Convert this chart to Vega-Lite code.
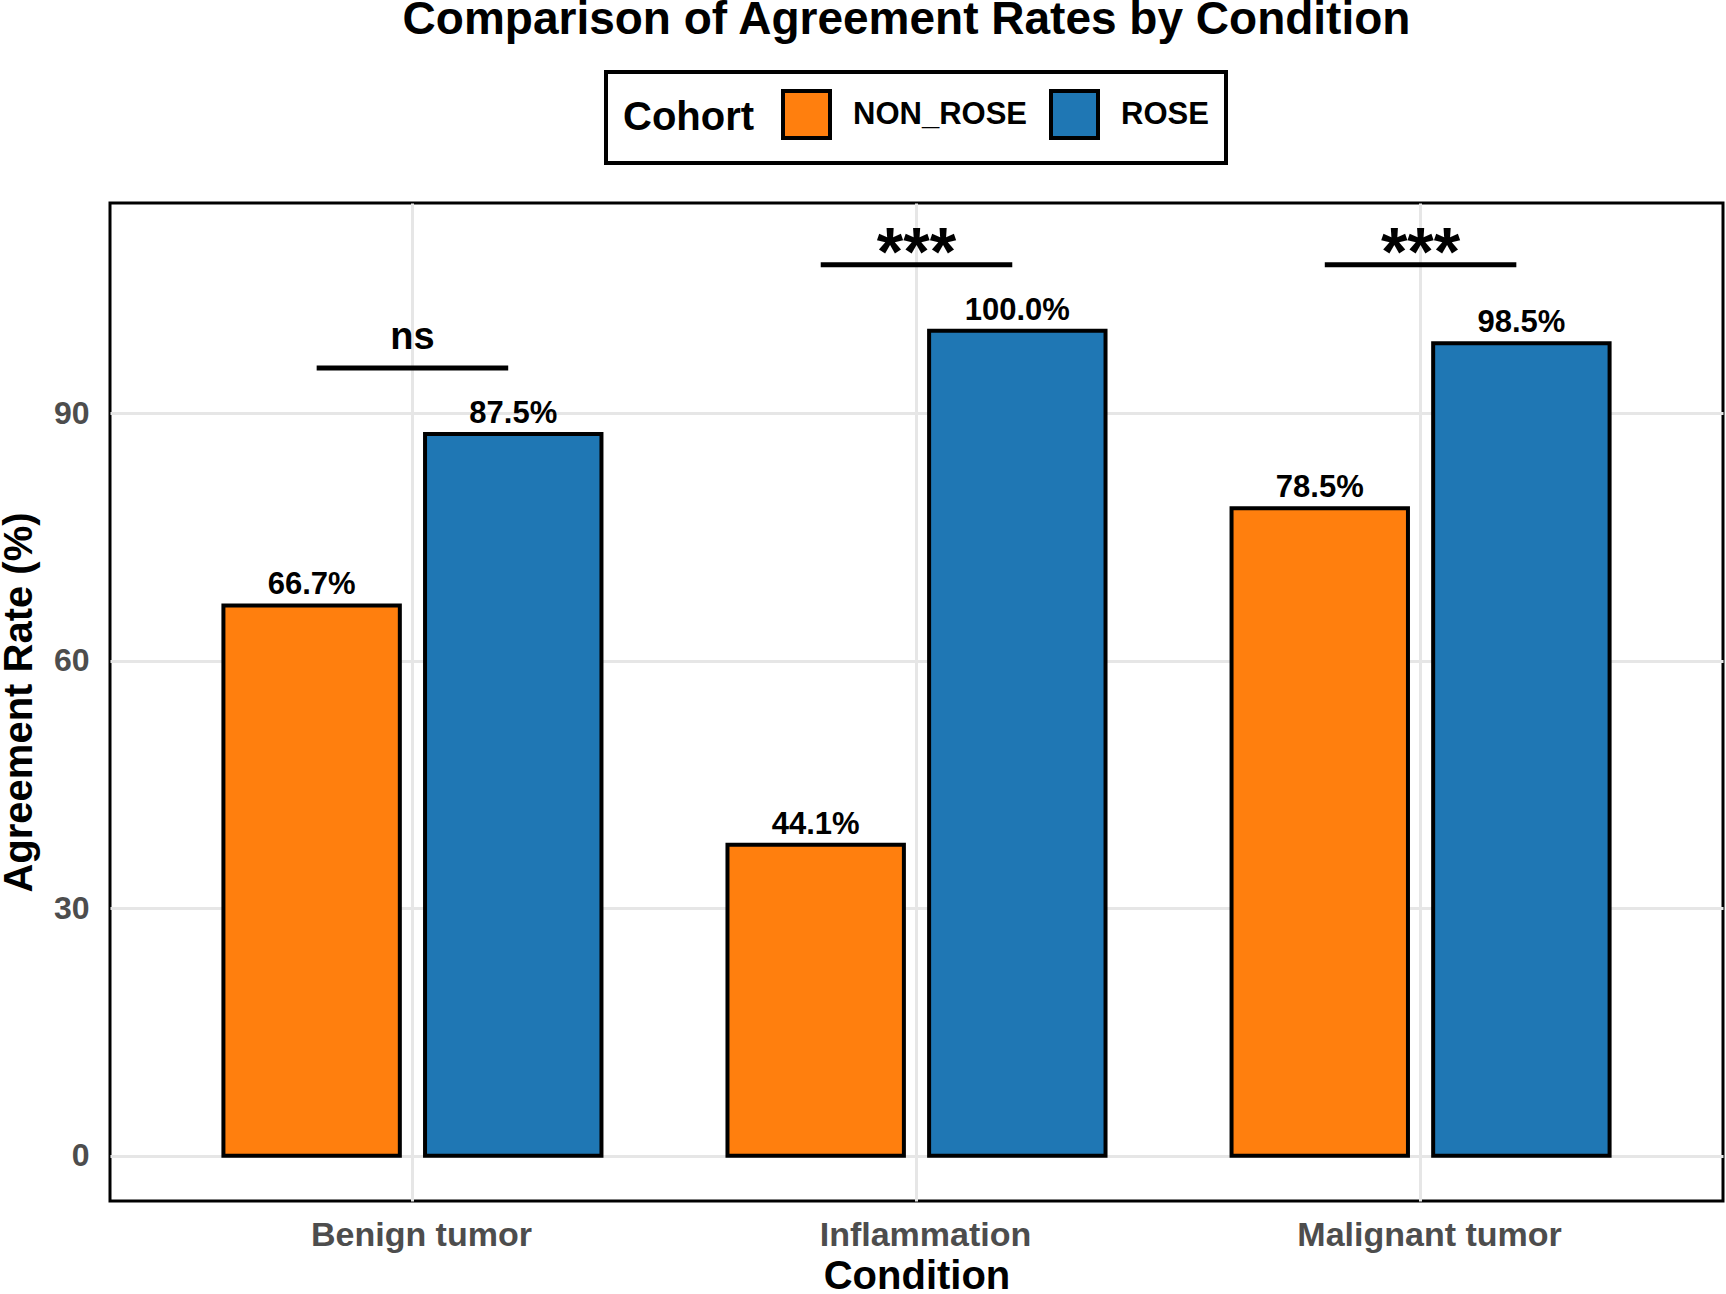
{
  "$schema": "https://vega.github.io/schema/vega-lite/v6.json",
  "width": 1613,
  "height": 998,
  "autosize": {"type": "none"},
  "padding": {"left": 110, "right": 3, "top": 203, "bottom": 93},
  "background": "white",
  "title": {
    "text": "Comparison of Agreement Rates by Condition",
    "font": "Liberation Sans",
    "fontSize": 46,
    "fontWeight": "bold",
    "color": "black",
    "anchor": "middle",
    "frame": "group",
    "dx": -10,
    "offset": 26
  },
  "config": {
    "font": "Liberation Sans",
    "view": {"stroke": "black", "strokeWidth": 3},
    "axis": {
      "labelFont": "Liberation Sans",
      "titleFont": "Liberation Sans",
      "labelFontWeight": "bold",
      "titleFontWeight": "bold",
      "labelColor": "#4D4D4D",
      "titleColor": "black",
      "labelLimit": 0,
      "ticks": false,
      "tickSize": 0,
      "domain": false,
      "grid": true,
      "gridColor": "#E6E6E6",
      "gridWidth": 3
    }
  },
  "datasets": {
    "rates": [
      {"Condition": "Benign tumor", "Cohort": "NON_ROSE", "rate": 66.7, "label": "66.7%"},
      {"Condition": "Benign tumor", "Cohort": "ROSE", "rate": 87.5, "label": "87.5%"},
      {"Condition": "Inflammation", "Cohort": "NON_ROSE", "rate": 37.7, "label": "44.1%"},
      {"Condition": "Inflammation", "Cohort": "ROSE", "rate": 100.0, "label": "100.0%"},
      {"Condition": "Malignant tumor", "Cohort": "NON_ROSE", "rate": 78.5, "label": "78.5%"},
      {"Condition": "Malignant tumor", "Cohort": "ROSE", "rate": 98.5, "label": "98.5%"}
    ],
    "sig": [
      {"Condition": "Benign tumor", "y": 95.5, "label": "ns"},
      {"Condition": "Inflammation", "y": 108, "label": "***"},
      {"Condition": "Malignant tumor", "y": 108, "label": "***"}
    ]
  },
  "layer": [
    {
      "data": {"name": "rates"},
      "mark": {"type": "bar", "stroke": "black", "strokeWidth": 4},
      "encoding": {
        "x": {
          "field": "Condition",
          "type": "nominal",
          "sort": ["Benign tumor", "Inflammation", "Malignant tumor"],
          "scale": {"paddingInner": 0.2, "paddingOuter": 0.2},
          "axis": {
            "title": "Condition",
            "labelAngle": 0,
            "labelFontSize": 34,
            "labelPadding": 17,
            "labelOffset": 9,
            "titleFontSize": 40,
            "titlePadding": 4,
            "bandPosition": 0.5
          }
        },
        "xOffset": {
          "field": "Cohort",
          "type": "nominal",
          "sort": ["NON_ROSE", "ROSE"],
          "scale": {"paddingInner": 0.125, "paddingOuter": 0.0625}
        },
        "y": {
          "field": "rate",
          "type": "quantitative",
          "scale": {"domain": [-5.5, 115.5], "nice": false, "zero": false},
          "axis": {
            "title": "Agreement Rate (%)",
            "values": [0, 30, 60, 90],
            "labelFontSize": 32,
            "labelPadding": 21,
            "titleFontSize": 40,
            "titlePadding": 14
          }
        },
        "color": {
          "field": "Cohort",
          "type": "nominal",
          "scale": {"domain": ["NON_ROSE", "ROSE"], "range": ["#FF7F0E", "#1F77B4"]},
          "legend": {
            "title": "Cohort",
            "orient": "none",
            "legendX": 496,
            "legendY": -131,
            "direction": "horizontal",
            "titleOrient": "left",
            "titleFont": "Liberation Sans",
            "titleFontSize": 40,
            "titleFontWeight": "bold",
            "titleColor": "black",
            "titlePadding": 26,
            "titleBaseline": "middle",
            "labelFont": "Liberation Sans",
            "labelFontSize": 31,
            "labelFontWeight": "bold",
            "labelColor": "black",
            "labelLimit": 0,
            "labelOffset": 21,
            "columnPadding": 16,
            "symbolType": "square",
            "symbolSize": 2209,
            "symbolStrokeColor": "black",
            "symbolStrokeWidth": 4,
            "symbolOpacity": 1,
            "padding": 17,
            "strokeColor": "black",
            "cornerRadius": 0,
            "fillColor": "white",
            "encode": {"legend": {"update": {"strokeWidth": {"value": 4}}}}
          }
        }
      }
    },
    {
      "data": {"name": "rates"},
      "mark": {"type": "text", "fontSize": 31, "fontWeight": "bold", "color": "black", "baseline": "alphabetic", "dy": -11},
      "encoding": {
        "x": {"field": "Condition", "type": "nominal", "sort": ["Benign tumor", "Inflammation", "Malignant tumor"]},
        "xOffset": {"field": "Cohort", "type": "nominal", "sort": ["NON_ROSE", "ROSE"]},
        "y": {"field": "rate", "type": "quantitative"},
        "text": {"field": "label", "type": "nominal"}
      }
    },
    {
      "data": {"name": "sig"},
      "mark": {"type": "rule", "color": "black", "strokeWidth": 5},
      "encoding": {
        "x": {"field": "Condition", "type": "nominal", "bandPosition": 0.2625, "sort": ["Benign tumor", "Inflammation", "Malignant tumor"]},
        "x2": {"field": "Condition", "bandPosition": 0.7375},
        "y": {"field": "y", "type": "quantitative"}
      }
    },
    {
      "data": {"name": "sig"},
      "transform": [{"filter": "datum.label === 'ns'"}],
      "mark": {"type": "text", "fontWeight": "bold", "color": "black", "baseline": "alphabetic", "fontSize": 38, "dy": -18.5},
      "encoding": {
        "x": {"field": "Condition", "type": "nominal", "sort": ["Benign tumor", "Inflammation", "Malignant tumor"]},
        "y": {"field": "y", "type": "quantitative"},
        "text": {"field": "label", "type": "nominal"}
      }
    },
    {
      "data": {"name": "sig"},
      "transform": [{"filter": "datum.label !== 'ns'"}],
      "mark": {"type": "text", "fontWeight": "bold", "color": "black", "baseline": "alphabetic", "fontSize": 68, "dy": 10},
      "encoding": {
        "x": {"field": "Condition", "type": "nominal", "sort": ["Benign tumor", "Inflammation", "Malignant tumor"]},
        "y": {"field": "y", "type": "quantitative"},
        "text": {"field": "label", "type": "nominal"}
      }
    }
  ]
}
